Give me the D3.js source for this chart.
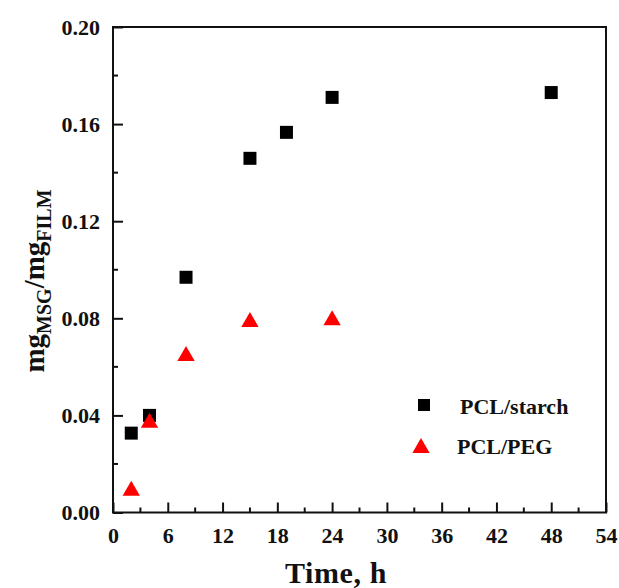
<!DOCTYPE html>
<html lang="en">
<head>
    <meta charset="UTF-8">
    <title>MSG release</title>
    <script src="https://d3js.org/d3.v7.min.js"></script>
    <style>
        body { margin: 0; background: #fff; }
        svg text { font-family: "Liberation Serif", "DejaVu Serif", serif; font-weight: bold; fill: #111; }
        .axis path, .axis line { stroke: #111; stroke-width: 2px; }
    </style>
</head>
<body>
<svg width="619" height="588"></svg>
<script>
    // PCL/starch
    const starchTime = [2, 4, 8, 15, 19, 24, 48];
    const starchVal = [0.0327, 0.0400, 0.0969, 0.1459, 0.1566, 0.1710, 0.1730];
    // PCL/PEG
    const pegTime = [2, 4, 8, 15, 24];
    const pegVal = [0.0090, 0.0370, 0.0645, 0.0785, 0.0792];

    const xTicks = [0, 6, 12, 18, 24, 30, 36, 42, 48, 54];
    const yTicks = [0, 0.04, 0.08, 0.12, 0.16, 0.20];

    const svg = d3.select("svg");
    const mLeft = 113, mRight = 606, mTop = 27, mBottom = 512.5;

    const x = d3.scaleLinear().domain([0, 54]).range([mLeft, mRight]);
    const y = d3.scaleLinear().domain([0, 0.20]).range([mBottom, mTop]);

    // frame
    svg.append("rect")
        .attr("x", mLeft).attr("y", mTop)
        .attr("width", mRight - mLeft).attr("height", mBottom - mTop)
        .attr("fill", "none").attr("stroke", "#111").attr("stroke-width", 2);

    // minor ticks
    const xMinor = d3.range(3, 54, 6);
    const yMinor = d3.range(0.02, 0.2, 0.04);

    const gx = svg.append("g").attr("class", "axis")
        .attr("transform", `translate(0,${mBottom})`)
        .call(d3.axisBottom(x).tickValues(xTicks).tickSizeInner(-10).tickSizeOuter(0).tickPadding(15).tickFormat(d3.format("d")));
    gx.attr("font-family", null);
    gx.select(".domain").remove();
    gx.selectAll("text").attr("font-size", 22).attr("fill", "#111");
    gx.selectAll(".minor").data(xMinor).join("line")
        .attr("x1", d => x(d)).attr("x2", d => x(d))
        .attr("y1", 0).attr("y2", -5)
        .attr("stroke", "#111").attr("stroke-width", 2);

    const gy = svg.append("g").attr("class", "axis")
        .attr("transform", `translate(${mLeft},0)`)
        .call(d3.axisLeft(y).tickValues(yTicks).tickSizeInner(-10).tickSizeOuter(0).tickPadding(13).tickFormat(d3.format(".2f")));
    gy.attr("font-family", null);
    gy.select(".domain").remove();
    gy.selectAll("text").attr("font-size", 22).attr("fill", "#111");
    gy.selectAll(".minor").data(yMinor).join("line")
        .attr("x1", 0).attr("x2", 5)
        .attr("y1", d => y(d)).attr("y2", d => y(d))
        .attr("stroke", "#111").attr("stroke-width", 2);

    // axis titles
    svg.append("text")
        .attr("x", 336).attr("y", 583)
        .attr("text-anchor", "middle").attr("font-size", 30)
        .attr("letter-spacing", 0.6)
        .text("Time, h");

    const yl = svg.append("text")
        .attr("transform", "translate(44,281) rotate(-90)")
        .attr("text-anchor", "middle").attr("font-size", 29);
    yl.append("tspan").text("mg");
    yl.append("tspan").attr("dy", 7).attr("font-size", 20).text("MSG");
    yl.append("tspan").attr("dy", -7).text("/mg");
    yl.append("tspan").attr("dy", 7).attr("font-size", 20).text("FILM");

    // points
    const starch = starchTime.map((t, i) => [t, starchVal[i]]);
    const peg = pegTime.map((t, i) => [t, pegVal[i]]);

    const sq = d3.symbol().type(d3.symbolSquare).size(169);
    const tri = d3.symbol().type(d3.symbolTriangle).size(130);

    svg.append("g").selectAll("path")
        .data(starch).join("path")
        .attr("d", sq)
        .attr("transform", d => `translate(${x(d[0])},${y(d[1])})`)
        .attr("fill", "#000");

    svg.append("g").selectAll("path")
        .data(peg).join("path")
        .attr("d", tri)
        .attr("transform", d => `translate(${x(d[0])},${y(d[1])})`)
        .attr("fill", "#ff0000");

    // legend
    const legend = svg.append("g");
    legend.append("path").attr("d", d3.symbol().type(d3.symbolSquare).size(144))
        .attr("transform", "translate(424,405)").attr("fill", "#000");
    legend.append("text").attr("x", 460).attr("y", 414).attr("font-size", 22).text("PCL/starch");
    legend.append("path").attr("d", tri)
        .attr("transform", "translate(421,448)").attr("fill", "#ff0000");
    legend.append("text").attr("x", 457).attr("y", 454).attr("font-size", 22).text("PCL/PEG");
</script>
</body>
</html>
